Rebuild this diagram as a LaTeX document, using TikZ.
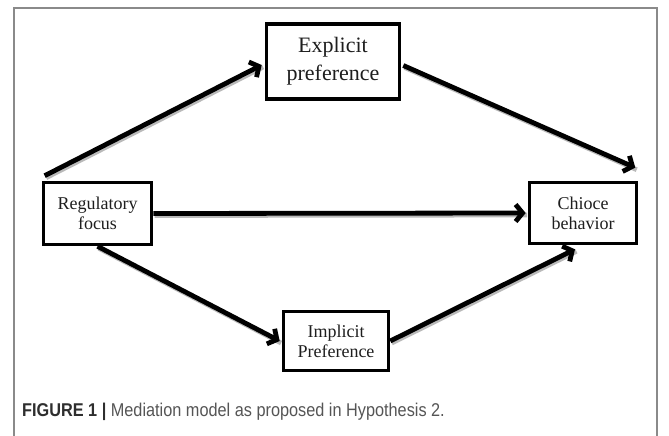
\documentclass[tikz,border=0pt]{standalone}
\usepackage{fontspec}
\setmainfont{Liberation Serif}
\newfontfamily\capfont{Liberation Sans}
\usetikzlibrary{arrows.meta,calc}
\definecolor{frameg}{HTML}{8A8A8A}
\definecolor{txtg}{HTML}{1E1E1E}
\definecolor{capg}{HTML}{2E2E2E}
\definecolor{capl}{HTML}{555555}
\tikzset{
  boxnode/.style={draw=black, line width=3.6pt, fill=white, inner sep=0pt, align=center, text=txtg,
    font=\fontsize{18}{20}\selectfont},
  arr/.style={line width=4.8pt, black,
    -{Straight Barb[length=7pt,width=17pt,line width=4.8pt]},
    preaction={draw=gray!55, line width=4.8pt, -, transform canvas={shift={(1.4pt,-2pt)}}}},
}
\begin{document}
\begin{tikzpicture}[x=1pt,y=-1pt]
\useasboundingbox (0,0) rectangle (669,436);
\fill[white] (0,0) rectangle (669,436);
\draw[frameg, line width=1.3pt] (14,437) -- (14,8) -- (657,8) -- (657,437);

\node[boxnode, minimum width=133pt, minimum height=75pt, font=\fontsize{22}{28}\selectfont] (exp) at (333,61.5) {Explicit\\preference};
\node[boxnode, minimum width=108pt, minimum height=62pt] (reg) at (97.5,213.5) {Regulatory\\focus};
\node[boxnode, minimum width=107pt, minimum height=61pt] (cho) at (583,213) {Chioce\\behavior};
\node[boxnode, minimum width=105pt, minimum height=59pt] (imp) at (336,341) {Implicit\\Preference};

\coordinate (a1s) at ($(reg.north west)+(3,-5)$);
\coordinate (a1e) at ($(exp.west)+(-3,3.5)$);
\coordinate (a2s) at ($(exp.east)+(2,4)$);
\coordinate (a2e) at ($(cho.north east)+(-3,-13)$);
\coordinate (a5e) at ($(cho.south)+(-8,4)$);

\draw[arr] (a1s) -- (a1e);
\draw[arr] (a2s) -- (a2e);
\draw[arr] (reg.east) -- ($(cho.west)+(-2,0)$);
\draw[arr] (reg.south) -- ($(imp.west)+(-2,0)$);
\draw[arr] (imp.east) -- (a5e);

\node[anchor=base west, inner sep=0pt, text=capg] (cap) at (22,416)
  {\scalebox{0.88}[1]{\capfont\fontsize{18.5}{20}\selectfont\textbf{FIGURE 1} \textbf{|} \textcolor{capl}{Mediation model as proposed in Hypothesis 2.}}};
\end{tikzpicture}
\end{document}
